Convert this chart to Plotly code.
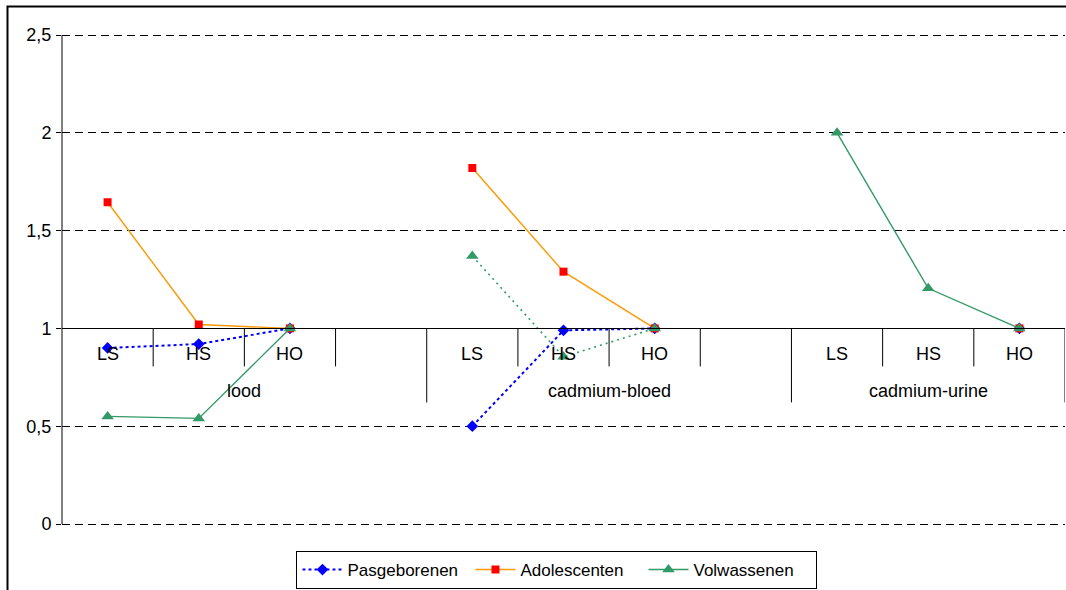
import plotly.graph_objects as go

# Categories: three exposure groups, each with three levels; an empty slot separates groups
groups = ["lood", "cadmium-bloed", "cadmium-urine"]
levels = ["LS", "HS", "HO"]
slots_per_group = 4

# Relative values per group (LS, HS, HO); None = not measured
pasgeborenen = [[0.90, 0.92, 1.00], [0.50, 0.99, 1.00], [None, None, 1.00]]
adolescenten = [[1.645, 1.02, 1.00], [1.82, 1.29, 1.00], [None, None, 1.00]]
volwassenen = [[0.55, 0.54, 1.00], [1.37, 0.855, 1.00], [2.00, 1.205, 1.00]]

y_ticks = [0, 0.5, 1, 1.5, 2, 2.5]

FONT = "Liberation Sans, Arial, sans-serif"
AXIS_FONT = dict(family=FONT, size=18, color="black")
LEGEND_FONT = dict(family=FONT, size=17, color="black")
W, H = 1066, 590
PAD = 3  # px of slack above 2,5 and below 0 so their gridlines are drawn
M = dict(l=62, r=1, t=35 - PAD, b=66 - PAD, autoexpand=False)
plot_w = W - M["l"] - M["r"]
plot_h = H - M["t"] - M["b"]
px_per_unit = (plot_h - 2 * PAD) / (y_ticks[-1] - y_ticks[0])

n_slots = len(groups) * slots_per_group - 1
x_range = [-0.5, n_slots - 0.5]
y_range = [y_ticks[0] - PAD / px_per_unit, y_ticks[-1] + PAD / px_per_unit]


def series_xy(values, keep=None):
    """Flatten per-group values into x/y with a gap between groups."""
    xs, ys = [], []
    for gi, vals in enumerate(values):
        for j, v in enumerate(vals):
            xs.append(gi * slots_per_group + j)
            ys.append(v if (keep is None or gi in keep) else None)
        xs.append(gi * slots_per_group + len(levels))
        ys.append(None)
    return xs, ys


def y_to_paper(px_from_top):
    return 1 - (px_from_top - M["t"]) / plot_h


fig = go.Figure()

x, y = series_xy(pasgeborenen)
fig.add_trace(go.Scatter(
    x=x, y=y, name="Pasgeborenen", mode="lines+markers", connectgaps=False,
    line=dict(color="#0000FF", width=2, dash="3px,3px"),
    marker=dict(symbol="diamond", size=9, color="#0000FF"),
))

x, y = series_xy(adolescenten)
fig.add_trace(go.Scatter(
    x=x, y=y, name="Adolescenten", mode="lines+markers", connectgaps=False,
    line=dict(color="#FF9900", width=1.4),
    marker=dict(symbol="square", size=8, color="#FF0000"),
))

# Volwassenen: solid for lood and cadmium-urine, dotted for cadmium-bloed
x, y = series_xy(volwassenen, keep={0, 2})
fig.add_trace(go.Scatter(
    x=x, y=y, name="Volwassenen", mode="lines+markers", connectgaps=False,
    line=dict(color="#339966", width=1.4),
    marker=dict(symbol="triangle-up", size=11, color="#339966"),
))
x, y = series_xy(volwassenen, keep={1})
fig.add_trace(go.Scatter(
    x=x, y=y, name="Volwassenen", mode="lines+markers", connectgaps=False,
    showlegend=False,
    line=dict(color="#339966", width=1.6, dash="2px,4px"),
    marker=dict(symbol="triangle-up", size=11, color="#339966"),
))

# Category labels, group labels and boundary ticks hanging from the axis at y = 1
annotations = []
shapes = []
for gi, g in enumerate(groups):
    for j, lv in enumerate(levels):
        annotations.append(dict(
            x=gi * slots_per_group + j, y=1, xref="x", yref="y",
            text=lv, showarrow=False, yanchor="middle", yshift=-26,
            font=AXIS_FONT,
        ))
    left = gi * slots_per_group - 0.5
    right = min(left + slots_per_group, x_range[1])
    annotations.append(dict(
        x=(left + right) / 2, y=1, xref="x", yref="y",
        text=g, showarrow=False, yanchor="middle", yshift=-63,
        font=AXIS_FONT,
    ))

for k in range(n_slots):
    b = k + 0.5
    long_tick = (k + 1) % slots_per_group == 0 or k == n_slots - 1
    shapes.append(dict(
        type="line", xref="x", yref="y", x0=b, x1=b,
        ysizemode="pixel", yanchor=1, y0=0, y1=-(74 if long_tick else 38),
        line=dict(color="black", width=1),
    ))

# Outer chart frame
shapes.append(dict(
    type="rect", xref="paper", yref="paper",
    x0=(7.5 - M["l"]) / plot_w, x1=1 + 20 / plot_w,
    y0=y_to_paper(H + 20), y1=y_to_paper(6.5),
    line=dict(color="black", width=2), fillcolor="rgba(0,0,0,0)", layer="above",
))

# Vertical value axis line spanning 0 .. 2,5
shapes.append(dict(
    type="line", xref="paper", yref="y", x0=0, x1=0,
    y0=y_ticks[0], y1=y_ticks[-1], line=dict(color="black", width=1),
))

fig.update_layout(
    width=W, height=H, margin=M,
    paper_bgcolor="white", plot_bgcolor="white",
    separators=", ",
    font=dict(family=FONT, size=17, color="black"),
    showlegend=True,
    legend=dict(
        orientation="h", x=0.4935, xanchor="center",
        y=y_to_paper(551), yanchor="top",
        bordercolor="black", borderwidth=1, bgcolor="white",
        font=LEGEND_FONT,
        entrywidth=118, tracegroupgap=0, itemwidth=40,
    ),
    annotations=annotations,
    shapes=shapes,
    xaxis=dict(
        range=x_range, anchor="free",
        position=(1 - y_range[0]) / (y_range[1] - y_range[0]),
        showline=True, linecolor="black", linewidth=1,
        showgrid=False, zeroline=False, ticks="", showticklabels=False,
    ),
    yaxis=dict(
        range=y_range, tickvals=y_ticks, tickformat=".1~f",
        showline=False,
        ticks="outside", ticklen=5, tickcolor="black", ticklabelstandoff=1,
        showgrid=True, gridcolor="black", gridwidth=1, griddash="8px,5px",
        zeroline=False,
        tickfont=AXIS_FONT,
    ),
)

fig.write_html("out.html")
